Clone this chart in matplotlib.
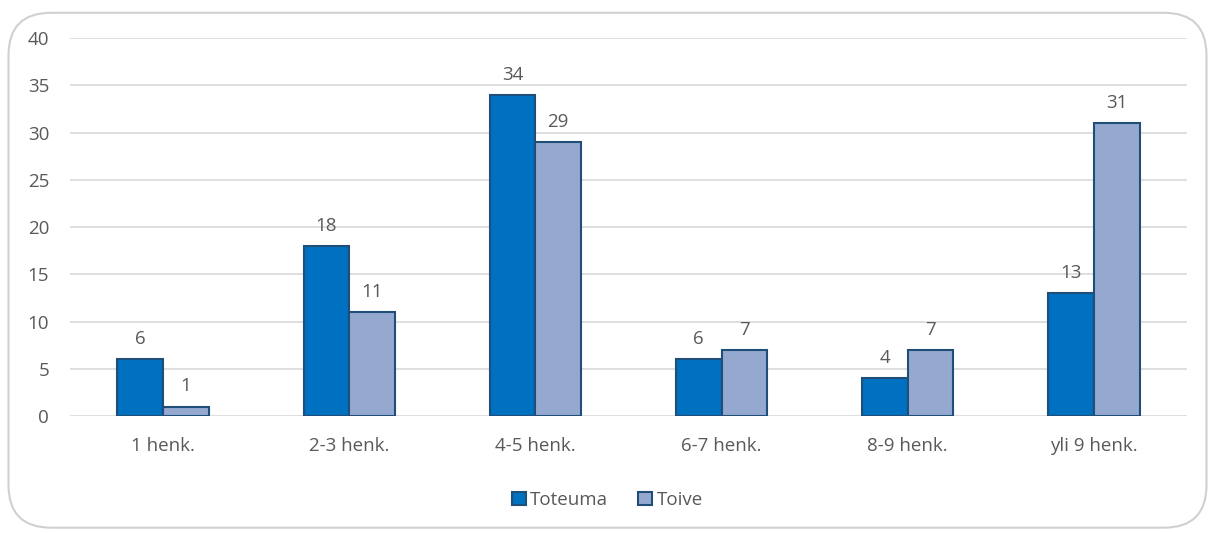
import numpy as np
import matplotlib.pyplot as plt
from matplotlib.patches import FancyBboxPatch

# household size categories and survey counts
categories = ['1 henk.', '2-3 henk.', '4-5 henk.', '6-7 henk.', '8-9 henk.', 'yli 9 henk.']
toteuma = [6, 18, 34, 6, 4, 13]
toive = [1, 11, 29, 7, 7, 31]
yticks = [0, 5, 10, 15, 20, 25, 30, 35, 40]

plt.rcParams['font.family'] = ['Open Sans', 'DejaVu Sans']
txt_col = '#595959'
edge_col = '#1F4E79'
fs = 13.5

fig = plt.figure(figsize=(12.15, 5.33), dpi=100)
ax = fig.add_axes([0.0576, 0.2195, 0.9194, 0.7092])

# rounded frame around the whole chart
frame = FancyBboxPatch((0.007, 0.01), 0.986, 0.966,
                       boxstyle="round,pad=0,rounding_size=0.035",
                       transform=fig.transFigure, facecolor='none',
                       edgecolor='#D0D0D0', linewidth=1.5, mutation_aspect=2.28)
fig.patches.append(frame)

x = np.arange(len(categories))
w = 0.245
b1 = ax.bar(x - w/2, toteuma, w, color='#0070C0', edgecolor=edge_col,
            linewidth=1.5, label='Toteuma', zorder=3)
b2 = ax.bar(x + w/2, toive, w, color='#95A9D0', edgecolor=edge_col,
            linewidth=1.5, label='Toive', zorder=3)

for bars, vals in ((b1, toteuma), (b2, toive)):
    for bar, v in zip(bars, vals):
        ax.annotate(str(v), (bar.get_x() + bar.get_width()/2, v),
                    textcoords="offset points", xytext=(0, 8),
                    ha='center', va='bottom', fontsize=fs, color=txt_col)

ax.set_xlim(-0.5, len(categories) - 0.5)
ax.set_ylim(0, 40)
ax.set_yticks(yticks)
ax.set_xticks(x)
ax.set_xticklabels(categories)
ax.tick_params(axis='both', length=0, labelsize=fs, labelcolor=txt_col)
ax.tick_params(axis='y', pad=15)
ax.tick_params(axis='x', pad=15)
ax.grid(axis='y', color='#D9D9D9', linewidth=1.2, zorder=0)
for s in ax.spines.values():
    s.set_visible(False)

fig.legend(loc='center', bbox_to_anchor=(0.5, 0.062), ncol=2, frameon=False,
           fontsize=fs, labelcolor=txt_col, handlelength=0.75, handleheight=0.75,
           handletextpad=0.25, columnspacing=1.6)

fig.savefig('out.png', dpi=100)
